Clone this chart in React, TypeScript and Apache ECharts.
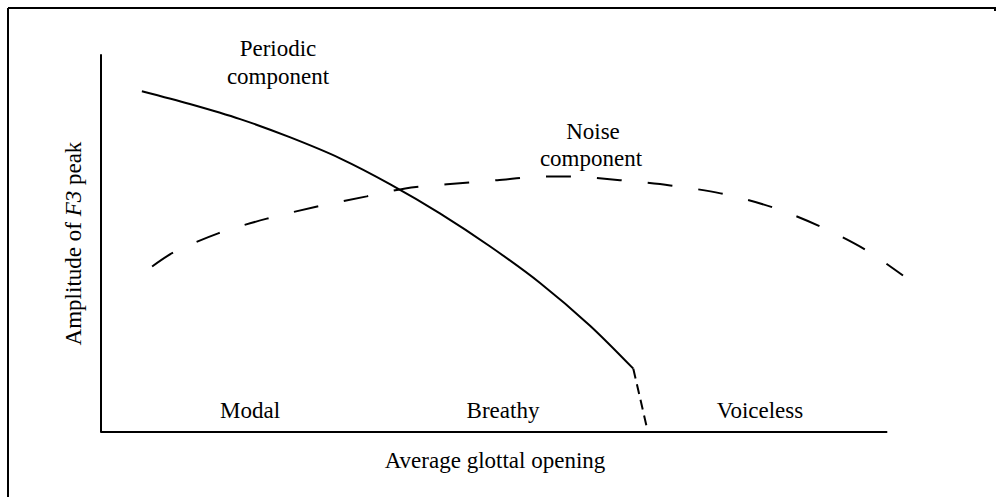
import React, { useEffect, useRef } from "react";
import * as echarts from "echarts";

// Periodic component (solid), x = average glottal opening, y = amplitude (0–100 units)
const periodicX = [5.2, 11.3, 17.7, 24.0, 30.4, 36.8, 43.1, 49.5, 55.8, 62.2, 67.7];
const periodicY = [90.4, 87.0, 83.0, 78.2, 72.6, 65.7, 58.0, 49.2, 39.6, 28.2, 16.8];

// Periodic component drop into voiceless region (dashed)
const dropX = [67.7, 69.5];
const dropY = [16.8, 0.5];

// Noise component (dashed)
const noiseX = [6.5, 9.2, 14.9, 21.1, 27.5, 33.8, 38.7, 44.0, 50.4, 56.7, 59.7, 66.0, 72.4, 78.8, 85.4, 91.5, 97.2, 102.0];
const noiseY = [43.9, 47.6, 52.7, 56.6, 59.8, 62.5, 64.6, 65.7, 66.8, 67.8, 67.8, 66.8, 65.4, 63.3, 59.6, 54.5, 48.4, 41.5];

// Horizontal axis extent (the axis line stops at 100, the noise curve runs on)
const xAxisEnd = 100;
const xDomainMax = 102;

// Region labels
const regionLabels = ["Modal", "Breathy", "Voiceless"];

const FONT = '"Liberation Serif", "Times New Roman", serif';
const INK = "#000";

function pairs(xs: number[], ys: number[]) {
  return xs.map((x, i) => [x, ys[i]]);
}

export default function App() {
  const ref = useRef<HTMLDivElement>(null);

  useEffect(() => {
    if (!ref.current) return;
    const chart = echarts.init(ref.current, undefined, { renderer: "svg" });

    const txt = (text: string, x: number, y: number) => ({
      type: "text",
      x,
      y,
      style: {
        text,
        fontFamily: FONT,
        fontSize: 23,
        fill: INK,
        align: "center",
        verticalAlign: "middle",
      },
    });

    chart.setOption({
      animation: false,
      backgroundColor: "#fff",
      grid: { left: 101, right: 94, top: 55, bottom: 65 },
      xAxis: {
        type: "value",
        min: 0,
        max: xDomainMax,
        axisLine: { show: false },
        axisTick: { show: false },
        axisLabel: { show: false },
        splitLine: { show: false },
        name: "Average glottal opening",
        nameLocation: "middle",
        nameGap: 17,
        nameTextStyle: { fontFamily: FONT, fontSize: 23, color: INK, padding: [0, 14, 0, 0] },
      },
      yAxis: {
        type: "value",
        min: 0,
        max: 100,
        axisLine: { show: true, lineStyle: { color: INK, width: 2 } },
        axisTick: { show: false },
        axisLabel: { show: false },
        splitLine: { show: false },
        name: "Amplitude of {i|F3} peak",
        nameLocation: "middle",
        nameRotate: 90,
        nameGap: 16,
        nameTextStyle: {
          fontFamily: FONT,
          fontSize: 23,
          color: INK,
          rich: {
            i: { fontFamily: FONT, fontSize: 23, color: INK, fontStyle: "italic" },
          },
        },
      },
      series: [
        {
          name: "Periodic component",
          type: "line",
          data: pairs(periodicX, periodicY),
          smooth: 0.3,
          clip: false,
          showSymbol: false,
          symbol: "none",
          lineStyle: { color: INK, width: 2 },
          markLine: {
            silent: true,
            symbol: ["none", "none"],
            label: { show: false },
            lineStyle: { color: INK, width: 2, type: "solid" },
            data: [[{ coord: [0, 0] }, { coord: [xAxisEnd, 0] }]],
          },
        },
        {
          name: "Periodic drop",
          type: "line",
          data: pairs(dropX, dropY),
          clip: false,
          showSymbol: false,
          symbol: "none",
          lineStyle: { color: INK, width: 2, type: [10, 6] },
        },
        {
          name: "Noise component",
          type: "line",
          data: pairs(noiseX, noiseY),
          smooth: 0.3,
          clip: false,
          showSymbol: false,
          symbol: "none",
          lineStyle: { color: INK, width: 2, type: [25, 26] },
        },
      ],
      graphic: [
        { type: "line", shape: { x1: 8, y1: 8, x2: 996, y2: 8 }, style: { stroke: INK, lineWidth: 2 } },
        { type: "line", shape: { x1: 8, y1: 8, x2: 8, y2: 497 }, style: { stroke: INK, lineWidth: 2 } },
        { type: "line", shape: { x1: 995, y1: 8, x2: 995, y2: 11 }, style: { stroke: INK, lineWidth: 2 } },
        txt("Periodic", 278, 48),
        txt("component", 278, 76),
        txt("Noise", 593, 131),
        txt("component", 591, 158),
        txt(regionLabels[0], 250, 410),
        txt(regionLabels[1], 503, 410),
        txt(regionLabels[2], 760, 410),
      ],
    });

    return () => chart.dispose();
  }, []);

  return (
    <div
      ref={ref}
      style={{ position: "fixed", left: 0, top: 0, width: 997, height: 497, background: "#fff" }}
    />
  );
}
